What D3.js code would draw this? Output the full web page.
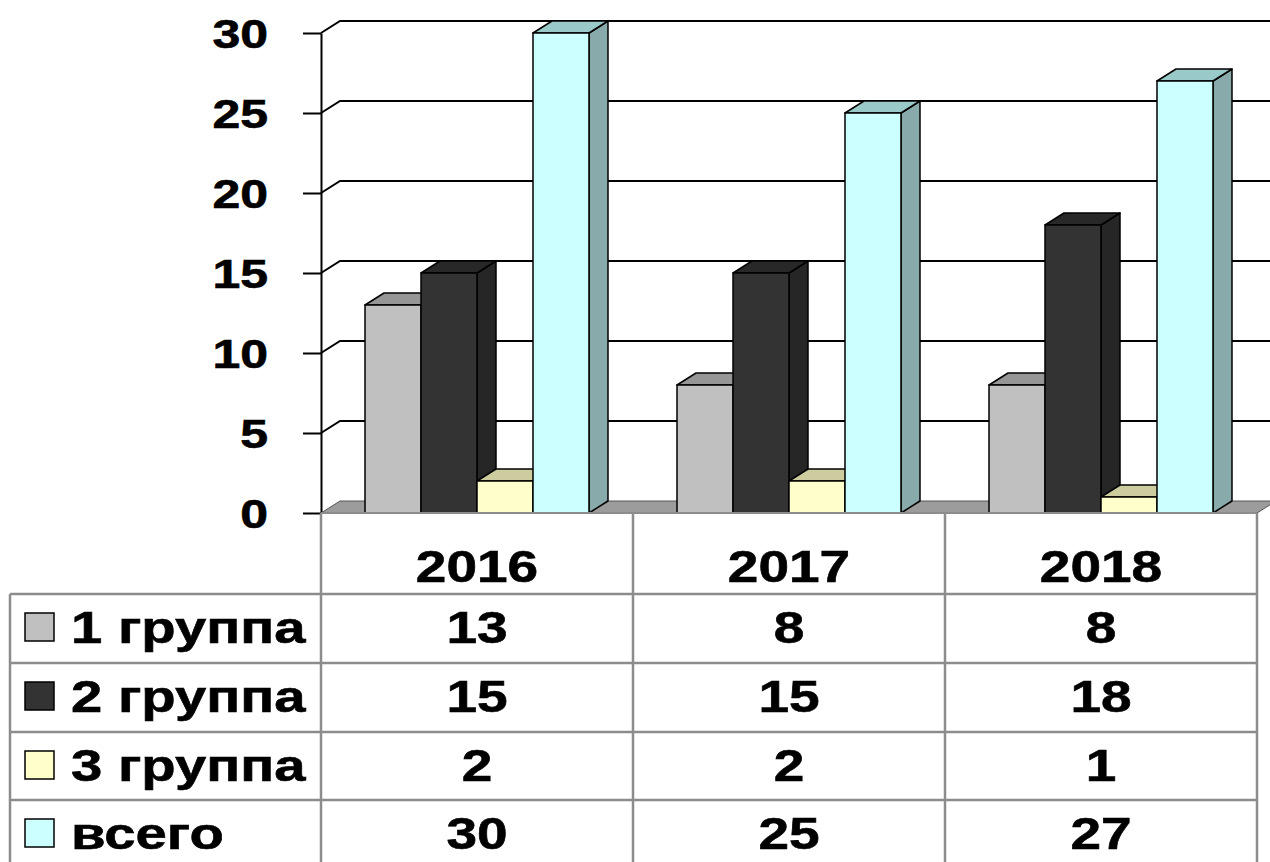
<!DOCTYPE html>
<html>
<head>
<meta charset="utf-8">
<script src="https://cdn.jsdelivr.net/npm/d3@7"></script>
<style>
  html, body { margin: 0; padding: 0; background: #fff; }
  svg { display: block; }
  text { font-family: "Liberation Sans", Arial, sans-serif; font-weight: bold; fill: #000; stroke: #000; stroke-width: 0.6px; }
</style>
</head>
<body>
<svg id="chart" width="1270" height="862"></svg>
<script>
// ---- data ----
const categories = ["2016", "2017", "2018"];
const seriesNames = ["1 группа", "2 группа", "3 группа", "всего"];
const group1 = [13, 8, 8];
const group2 = [15, 15, 18];
const group3 = [2, 2, 1];
const total = [30, 25, 27];
const yTicks = [0, 5, 10, 15, 20, 25, 30];

const seriesValues = [group1, group2, group3, total];
const frontColors = ["#c0c0c0", "#333333", "#ffffcc", "#ccffff"];
const topColors = ["#969696", "#282828", "#cccc9e", "#99c9c9"];
const sideColors = ["#8a8a8a", "#262626", "#b8b890", "#88aaaa"];

// ---- layout ----
const svg = d3.select("#chart");
const DX = 19, DY = -12;         // 3D depth offset
const SX = 1.25;                 // horizontal text stretch
const plotLeft = 321, plotRight = 1257;
const y = d3.scaleLinear().domain([0, 30]).range([513, 33]);
const x0 = d3.scaleBand().domain(categories).range([plotLeft, plotRight]);
const x1 = d3.scaleBand().domain(seriesNames).range([0, x0.bandwidth()])
  .paddingInner(0).paddingOuter(0.786);

// ---- back wall gridlines with depth connectors ----
const grid = svg.append("g");
yTicks.forEach(t => {
  if (t === 0) return;
  grid.append("path")
    .attr("d", `M${plotLeft},${y(t)} L${plotLeft + DX},${y(t) + DY} L${1290},${y(t) + DY}`)
    .attr("fill", "none").attr("stroke", "#000").attr("stroke-width", 2);
});

// ---- floor ----
svg.append("path")
  .attr("d", `M${plotLeft},${y(0)} L${plotLeft + DX},${y(0) + DY} L${plotRight + DX},${y(0) + DY} L${plotRight},${y(0)} Z`)
  .attr("fill", "#9c9c9c").attr("stroke", "#555").attr("stroke-width", 1);

// ---- bars ----
const barsG = svg.append("g");
categories.forEach((c, ci) => {
  seriesNames.forEach((s, si) => {
    const v = seriesValues[si][ci];
    const xl = x0(c) + x1(s);
    const w = x1.bandwidth();
    const yt = y(v), yb = y(0);
    const g = barsG.append("g");
    g.append("path")
      .attr("d", `M${xl + w},${yb} L${xl + w + DX},${yb + DY} L${xl + w + DX},${yt + DY} L${xl + w},${yt} Z`)
      .attr("fill", sideColors[si]).attr("stroke", "#000").attr("stroke-width", 1.5).attr("stroke-linejoin", "round");
    g.append("path")
      .attr("d", `M${xl},${yt} L${xl + DX},${yt + DY} L${xl + w + DX},${yt + DY} L${xl + w},${yt} Z`)
      .attr("fill", topColors[si]).attr("stroke", "#000").attr("stroke-width", 1.5).attr("stroke-linejoin", "round");
    g.append("rect")
      .attr("x", xl).attr("y", yt).attr("width", w).attr("height", yb - yt)
      .attr("fill", frontColors[si]).attr("stroke", "#000").attr("stroke-width", 1.5);
  });
});

// ---- y axis ----
const axisG = svg.append("g").attr("transform", `translate(${plotLeft},0)`)
  .call(d3.axisLeft(y).tickValues(yTicks).tickSize(18).tickSizeOuter(0));
axisG.select(".domain").attr("stroke", "#000").attr("stroke-width", 2);
axisG.selectAll(".tick line").attr("stroke", "#000").attr("stroke-width", 2);
axisG.selectAll(".tick text")
  .attr("x", -53 / SX).attr("dy", "0.37em")
  .attr("transform", `scale(${SX},1)`)
  .attr("font-size", 40).attr("font-family", null).attr("fill", "#000")
  .style("font-weight", "bold");

// ---- data table ----
const tbl = svg.append("g");
const lineColor = "#8c8c8c";
const rowTops = [594, 663, 732, 800, 870];
const legendLeft = 10;
rowTops.slice(0, 4).forEach(ry => {
  tbl.append("line").attr("x1", legendLeft).attr("x2", plotRight)
    .attr("y1", ry).attr("y2", ry).attr("stroke", lineColor).attr("stroke-width", 2.5);
});
tbl.append("line").attr("x1", plotLeft).attr("x2", plotRight)
  .attr("y1", y(0)).attr("y2", y(0)).attr("stroke", lineColor).attr("stroke-width", 2);
const colEdges = categories.map(c => x0(c)).concat([plotRight]);
colEdges.forEach(cx => {
  tbl.append("line").attr("x1", cx).attr("x2", cx).attr("y1", y(0)).attr("y2", 870)
    .attr("stroke", lineColor).attr("stroke-width", 2.5);
});
tbl.append("line").attr("x1", legendLeft).attr("x2", legendLeft).attr("y1", 594).attr("y2", 870)
  .attr("stroke", lineColor).attr("stroke-width", 2.5);

// header
categories.forEach(c => {
  tbl.append("text")
    .attr("transform", `translate(${x0(c) + x0.bandwidth() / 2},582) scale(${SX},1)`)
    .attr("text-anchor", "middle").attr("font-size", 44).text(c);
});
// rows
seriesNames.forEach((s, si) => {
  const base = rowTops[si] + 49;
  tbl.append("rect")
    .attr("x", 25).attr("y", rowTops[si] + 19).attr("width", 29).attr("height", 28)
    .attr("fill", frontColors[si]).attr("stroke", "#000").attr("stroke-width", 1.5);
  tbl.append("text")
    .attr("transform", `translate(71,${base}) scale(${SX},1)`)
    .attr("font-size", 45).text(s);
  categories.forEach((c, ci) => {
    tbl.append("text")
      .attr("transform", `translate(${x0(c) + x0.bandwidth() / 2},${base}) scale(${SX},1)`)
      .attr("text-anchor", "middle").attr("font-size", 44).text(seriesValues[si][ci]);
  });
});
</script>
</body>
</html>
